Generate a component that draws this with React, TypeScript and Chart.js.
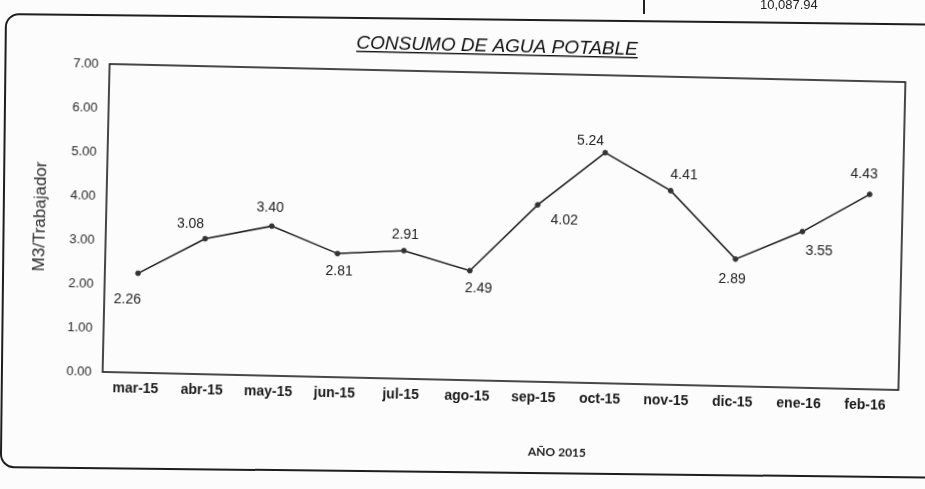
import React, { useEffect, useRef } from "react";
import { Chart, registerables } from "chart.js";

Chart.register(...registerables);

const MONTHS = ["mar-15", "abr-15", "may-15", "jun-15", "jul-15", "ago-15", "sep-15", "oct-15", "nov-15", "dic-15", "ene-16", "feb-16"];
const CONSUMO = [2.26, 3.08, 3.4, 2.81, 2.91, 2.49, 4.02, 5.24, 4.41, 2.89, 3.55, 4.43];
const Y_TICKS = [0, 1, 2, 3, 4, 5, 6, 7];
const TITLE = "CONSUMO DE AGUA POTABLE";
const Y_TITLE = "M3/Trabajador";
const X_TITLE = "AÑO 2015";
const TOP_VALUE = "10,087.94";

// label placement (style) relative to each point
const LABEL_OFFSETS: [number, number][] = [
  [-10, 27], [-15, -14], [-2, -18], [2, 18], [1, -16], [9, 18],
  [27, 15], [-15, -11], [13, -16], [-3, 20], [17, 19], [-6, -20],
];

const FONT = "'Liberation Sans', Arial, sans-serif";

const decor = {
  id: "decor",
  afterDraw(chart: any) {
    const ctx = chart.ctx as CanvasRenderingContext2D;
    const a = chart.chartArea;
    ctx.save();
    // plot frame
    ctx.strokeStyle = "#1a1a1a";
    ctx.lineWidth = 1.6;
    ctx.strokeRect(a.left, a.top, a.right - a.left, a.bottom - a.top);

    // title with underline
    const cx = (a.left + a.right) / 2;
    ctx.fillStyle = "#111";
    ctx.font = `italic 19px ${FONT}`;
    ctx.textAlign = "center";
    ctx.textBaseline = "alphabetic";
    const tx = cx - 11;
    const ty = 52;
    ctx.fillText(TITLE, tx, ty);
    const w = ctx.measureText(TITLE).width;
    ctx.fillRect(tx - w / 2, ty + 2, w, 1.4);

    // x axis title
    ctx.font = "bold 12px Lato, 'Open Sans', sans-serif";
    ctx.textBaseline = "middle";
    ctx.fillStyle = "#1a1a1a";
    ctx.fillText(X_TITLE, cx + 58, 451);

    // data labels
    ctx.font = `14px ${FONT}`;
    ctx.fillStyle = "#222";
    const meta = chart.getDatasetMeta(0);
    meta.data.forEach((pt: any, i: number) => {
      const [ox, oy] = LABEL_OFFSETS[i];
      ctx.fillText(CONSUMO[i].toFixed(2), pt.x + ox, pt.y + oy);
    });
    ctx.restore();
  },
};

export default function App() {
  const ref = useRef<HTMLCanvasElement | null>(null);

  useEffect(() => {
    if (!ref.current) return;
    const chart = new Chart(ref.current, {
      type: "line",
      data: {
        labels: MONTHS,
        datasets: [
          {
            data: CONSUMO,
            borderColor: "#1c1c1c",
            borderWidth: 1.5,
            pointRadius: 2.4,
            pointBackgroundColor: "#333",
            pointBorderColor: "#333",
            pointBorderWidth: 1,
            tension: 0,
            fill: false,
          },
        ],
      },
      options: {
        animation: false,
        responsive: false,
        devicePixelRatio: 1,
        layout: { padding: { left: 0, right: 23, top: 73, bottom: 78 } },
        plugins: {
          legend: { display: false },
          title: { display: false },
          tooltip: { enabled: false },
        },
        scales: {
          x: {
            type: "category",
            offset: true,
            grid: { display: false, drawTicks: false },
            border: { display: false },
            ticks: {
              padding: 8,
              color: "#1a1a1a",
              autoSkip: false,
              maxRotation: 0,
              font: { family: FONT, size: 14, weight: "bold" },
            },
            afterFit: (s: any) => {
              s.height = 30;
            },
          },
          y: {
            min: 0,
            max: 7,
            grid: { display: false, drawTicks: false },
            border: { display: false },
            afterBuildTicks: (s: any) => {
              s.ticks = Y_TICKS.map((v) => ({ value: v }));
            },
            ticks: {
              padding: 11,
              color: "#2a2a2a",
              font: { family: FONT, size: 13 },
              callback: (v: any) => Number(v).toFixed(2),
            },
            title: {
              display: true,
              text: Y_TITLE,
              color: "#2a2a2a",
              padding: { top: 30, bottom: 0 },
              font: { family: FONT, size: 17 },
            },
            afterFit: (s: any) => {
              s.width = 106;
            },
          },
        },
      },
      plugins: [decor],
    });
    return () => chart.destroy();
  }, []);

  return (
    <div
      style={{
        position: "fixed",
        left: 0,
        top: 0,
        width: 925,
        height: 489,
        overflow: "hidden",
        background: "#fcfcfc",
      }}
    >
      <div
        style={{
          position: "absolute",
          left: 5,
          top: 13,
          width: 960,
          height: 455,
          border: "2px solid #1e1e1e",
          borderRadius: 14,
          boxSizing: "border-box",
          transform: "rotate(0.65deg)",
          transformOrigin: "0 0",
        }}
      />
      <div
        style={{
          position: "absolute",
          left: 0,
          top: 0,
          width: 925,
          height: 489,
          transform: "rotate(1.3deg)",
          transformOrigin: "504px 227px",
        }}
      >
        <canvas ref={ref} width={925} height={489} style={{ display: "block", width: 925, height: 489 }} />
      </div>
      <div
        style={{
          position: "absolute",
          left: 760,
          top: -3,
          fontFamily: FONT,
          fontSize: 13,
          color: "#222",
        }}
      >
        {TOP_VALUE}
      </div>
      <div style={{ position: "absolute", left: 643, top: 0, width: 1.5, height: 14, background: "#222" }} />
    </div>
  );
}
